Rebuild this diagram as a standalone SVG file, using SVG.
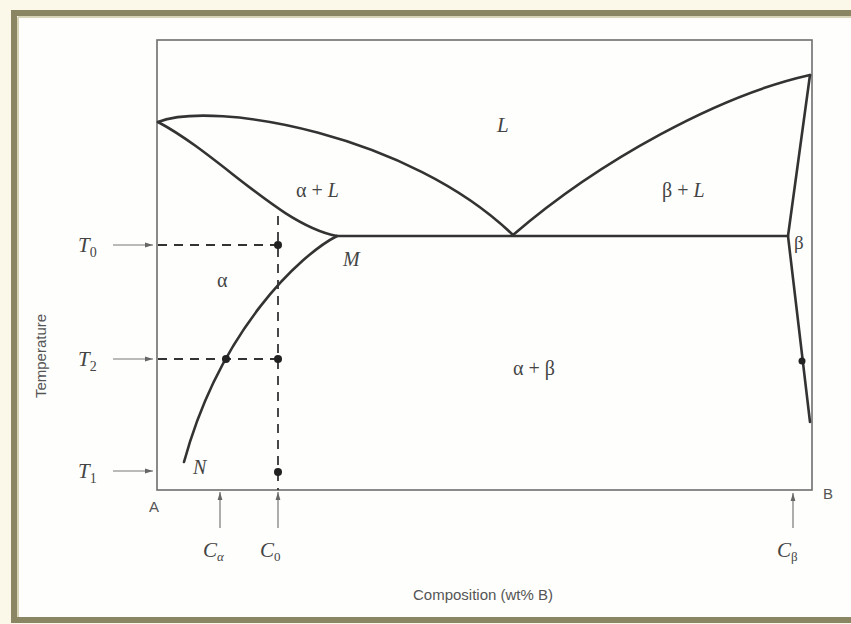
<svg xmlns="http://www.w3.org/2000/svg" width="851" height="624" viewBox="0 0 851 624">
<defs>
<style>
.ax{fill:none;stroke:#6e6e6e;stroke-width:1.6}
.cv{fill:none;stroke:#333;stroke-width:2.6;stroke-linecap:round}
.ds{fill:none;stroke:#333;stroke-width:1.8;stroke-dasharray:9 7}
.ar{fill:none;stroke:#777;stroke-width:1.2}
.it{font-family:"Liberation Serif",serif;font-style:italic;fill:#444}
.gr{font-family:"Liberation Serif",serif;fill:#444}
.sn{font-family:"Liberation Sans",Arial,sans-serif;fill:#555}
.dot{fill:#222}
</style>
<marker id="ah" viewBox="0 0 10 10" refX="10" refY="5" markerWidth="7" markerHeight="7" orient="auto"><path d="M0,2 L10,5 L0,8 z" fill="#666"/></marker>
</defs>
<rect width="851" height="624" fill="#fcf8e9"/>
<rect x="14" y="13" width="850" height="607" fill="#fefefc" stroke="#8a8562" stroke-width="6"/>
<line x1="18" y1="17" x2="851" y2="17" stroke="#d8d4b8" stroke-width="2"/>
<line x1="18" y1="17" x2="18" y2="617" stroke="#d8d4b8" stroke-width="2"/>

<g id="frame">
<rect class="ax" x="157" y="40" width="655" height="450"/>
</g>

<g id="connectors">
<path class="cv" d="M158,122 C215,100 410,135 513,235"/>
<path class="cv" d="M158,122 C220,155 280,225 337,236"/>
<path class="cv" d="M337,236 C300,255 220,330 184,462"/>
<path class="cv" d="M337,236 L788,236"/>
<path class="cv" d="M513,235 C600,160 720,95 810,75"/>
<path class="cv" d="M810,75 L788,236 L810,422"/>
<path class="ds" d="M278,216 L278,490"/>
<path class="ds" d="M158,245 L278,245"/>
<path class="ds" d="M158,359 L278,359"/>
<line class="ar" x1="113" y1="245" x2="153" y2="245" marker-end="url(#ah)"/>
<line class="ar" x1="113" y1="359" x2="153" y2="359" marker-end="url(#ah)"/>
<line class="ar" x1="113" y1="471" x2="153" y2="471" marker-end="url(#ah)"/>
<line class="ar" x1="220" y1="528" x2="220" y2="492" marker-end="url(#ah)"/>
<line class="ar" x1="278" y1="528" x2="278" y2="492" marker-end="url(#ah)"/>
<line class="ar" x1="793" y1="528" x2="793" y2="493" marker-end="url(#ah)"/>
</g>

<g id="points">
<circle class="dot" cx="278" cy="245" r="4"/>
<circle class="dot" cx="278" cy="359" r="4"/>
<circle class="dot" cx="278" cy="472" r="4"/>
<circle class="dot" cx="226" cy="359" r="4"/>
<circle class="dot" cx="802" cy="361" r="3.5"/>
</g>

<g id="labels">
<text class="it" x="497" y="132" font-size="21">L</text>
<text class="gr" x="296" y="197" font-size="20">α + <tspan font-style="italic">L</tspan></text>
<text class="gr" x="662" y="197" font-size="20">β + <tspan font-style="italic">L</tspan></text>
<text class="gr" x="794" y="249" font-size="19">β</text>
<text class="it" x="343" y="266" font-size="20">M</text>
<text class="gr" x="217" y="287" font-size="20">α</text>
<text class="gr" x="513" y="375" font-size="20">α + β</text>
<text class="it" x="193" y="474" font-size="20">N</text>
<text class="it" x="78" y="252" font-size="21">T<tspan font-size="14" font-style="normal" dy="5">0</tspan></text>
<text class="it" x="78" y="366" font-size="21">T<tspan font-size="14" font-style="normal" dy="5">2</tspan></text>
<text class="it" x="78" y="478" font-size="21">T<tspan font-size="14" font-style="normal" dy="5">1</tspan></text>
<text class="sn" x="149" y="512" font-size="15">A</text>
<text class="sn" x="823" y="499" font-size="15">B</text>
<text class="it" x="203" y="557" font-size="21">C<tspan font-size="13" dy="4">α</tspan></text>
<text class="it" x="260" y="557" font-size="21">C<tspan font-size="13" font-style="normal" dy="4">0</tspan></text>
<text class="it" x="777" y="557" font-size="21">C<tspan font-size="13" font-style="normal" dy="4">β</tspan></text>
<text class="sn" x="483" y="600" font-size="15" text-anchor="middle">Composition (wt% B)</text>
<text class="sn" x="0" y="0" font-size="15" text-anchor="middle" transform="translate(46,356) rotate(-90)">Temperature</text>
</g>
</svg>
